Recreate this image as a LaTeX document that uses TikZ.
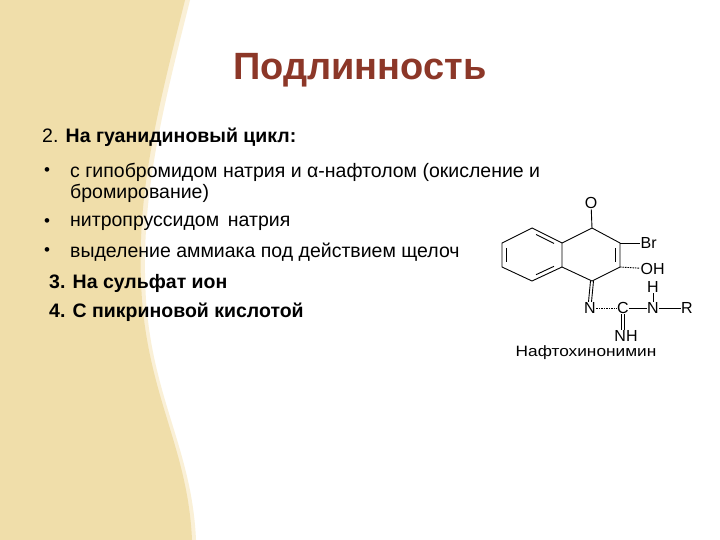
\documentclass[tikz,border=0pt]{standalone}
\usepackage{fontspec}
\setmainfont{Liberation Sans}
\usetikzlibrary{calc}
\begin{document}
\begin{tikzpicture}[x=1pt,y=-1pt,
  txt/.style={anchor=west,font=\fontsize{19.5}{22}\selectfont,inner sep=0pt},
  bul/.style={anchor=center,font=\fontsize{17}{20}\selectfont,inner sep=0pt},
  atm/.style={font=\fontsize{16}{16}\selectfont,inner sep=0.5pt},
  bond/.style={line width=0.9pt}]
\useasboundingbox (0,0) rectangle (720,540);
\fill[white] (0,0) rectangle (720,540);
\fill[color={rgb,255:red,250;green,240;blue,215}] (0,0) -- (190,0) .. controls (160,120) and (140,200) .. (146,300) .. controls (153,400) and (192,450) .. (196,540) -- (0,540) -- cycle;
\fill[color={rgb,255:red,240;green,222;blue,170}] (0,0) -- (185,0) .. controls (155,120) and (135,200) .. (142,300) .. controls (150,400) and (188,450) .. (192,540) -- (0,540) -- cycle;
\node[font=\bfseries\fontsize{38}{44}\selectfont,text={rgb,255:red,140;green,55;blue,40}] (title) at (360,70) {Подлинность};
\node[txt] (l1) at (42,137) {2. \textbf{На гуанидиновый цикл:}};
\node[bul] (b1) at (47,172) {•};
\node[txt] (l2) at (70,172) {с гипобромидом натрия и α-нафтолом (окисление и};
\node[txt] (l3) at (70,193) {бромирование)};
\node[bul] (b2) at (47,223) {•};
\node[txt] (l4) at (70,223) {нитропруссидом\, натрия};
\node[bul] (b3) at (47,252) {•};
\node[txt] (l5) at (70,252) {выделение аммиака под действием щелоч};
\node[txt] (l6) at (49,283) {\textbf{3. На сульфат ион}};
\node[txt] (l7) at (49,312) {\textbf{4. С пикриновой кислотой}};
% molecule
\coordinate (a1) at (532,228); \coordinate (a2) at (502,243); \coordinate (a3) at (502,267);
\coordinate (a4) at (532,281); \coordinate (a5) at (562,267); \coordinate (a6) at (562,243);
\coordinate (c1) at (592,228); \coordinate (c2) at (620,243); \coordinate (c3) at (620,267); \coordinate (c4) at (592,281);
\draw[bond] (a1)--(a2)--(a3)--(a4)--(a5)--(a6)--cycle;
\draw[bond] (a6)--(c1)--(c2)--(c3)--(c4)--(a5);
\draw[bond] ($(a2)!0.2!(a3)+(4,0)$) -- ($(a2)!0.8!(a3)+(4,0)$);
\draw[bond] ($(a4)!0.2!(a5)+(-2,-3.5)$) -- ($(a4)!0.8!(a5)+(-2,-3.5)$);
\draw[bond] ($(a6)!0.2!(a1)+(-2,3.5)$) -- ($(a6)!0.8!(a1)+(-2,3.5)$);
\draw[bond] ($(c2)!0.2!(c3)+(-5,0)$) -- ($(c2)!0.8!(c3)+(-5,0)$);
\node[atm] (O) at (591,203) {O};
\draw[bond] (O) -- (c1);
\node[atm,anchor=west] (Br) at (640,243) {Br};
\draw[bond] (c2) -- (Br);
\node[atm,anchor=west] (OH) at (640,269) {OH};
\draw[bond,dash pattern=on 1.5pt off 1pt] (c3) -- (OH);
\node[atm] (N1) at (590,308) {N};
\draw[bond] ([xshift=-1.5pt]c4) -- ([xshift=-1.5pt]N1.north);
\draw[bond] ([xshift=1.5pt]c4) -- ([xshift=1.5pt]N1.north);
\node[atm] (C) at (623,308) {C};
\node[atm] (N2) at (653,308) {N};
\node[atm] (R) at (687,308) {R};
\node[atm] (H) at (653,287) {H};
\node[atm] (NH) at (626,336) {NH};
\draw[bond,dash pattern=on 1.5pt off 1pt] (N1) -- (C);
\draw[bond] (C) -- (N2);
\draw[bond] (N2) -- (R);
\draw[bond] (H) -- (N2);
\draw[bond] ([xshift=-1.5pt]C.south) -- ([xshift=-1.5pt]NH.north -| C.south);
\draw[bond] ([xshift=1.5pt]C.south) -- ([xshift=1.5pt]NH.north -| C.south);
\node[font=\fontsize{15}{15}\selectfont,xscale=1.15] (lab) at (586,353) {Нафтохинонимин};
\end{tikzpicture}
\end{document}
